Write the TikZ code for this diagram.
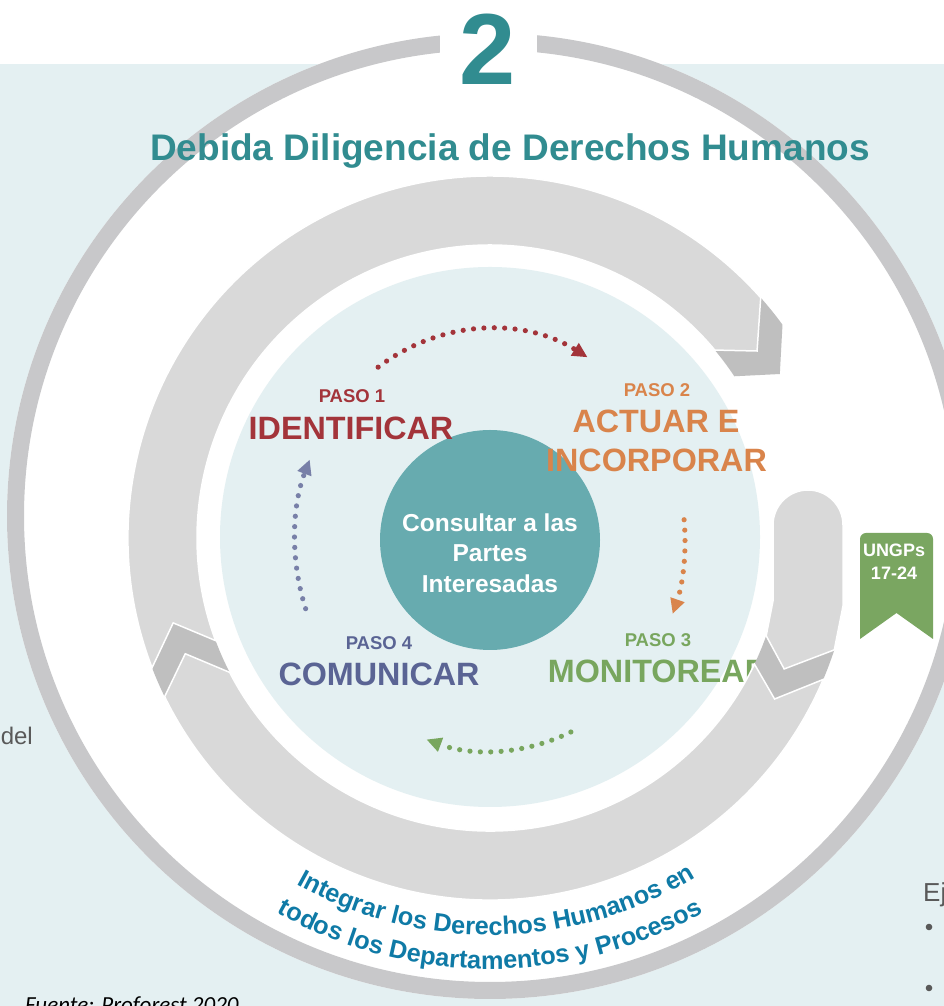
\documentclass[tikz,border=0pt]{standalone}
\usepackage{fontspec}
\setmainfont{Liberation Sans}
\newfontfamily\carlito{Carlito}
\usetikzlibrary{calc,arrows.meta,decorations.text}
\definecolor{bgblue}{HTML}{E4F0F2}
\definecolor{ringgrey}{HTML}{C8C8CA}
\definecolor{bandlight}{HTML}{D9D9D9}
\definecolor{banddark}{HTML}{BFBFBF}
\definecolor{tealc}{HTML}{67ABAF}
\definecolor{titleteal}{HTML}{318C90}
\definecolor{pred}{HTML}{A3343A}
\definecolor{porange}{HTML}{D9844B}
\definecolor{pgreen}{HTML}{78A65E}
\definecolor{pslate}{HTML}{5A6494}
\definecolor{dotslate}{HTML}{7880A8}
\definecolor{ribbongreen}{HTML}{7AA661}
\definecolor{arcblue}{HTML}{0F7AA6}
\definecolor{greytext}{HTML}{595959}
\begin{document}
\begin{tikzpicture}[x=1pt,y=1pt,
  lbl/.style={inner sep=0pt, anchor=base, font=\bfseries\fontsize{18.5}{22}\selectfont},
  big/.style={inner sep=0pt, anchor=base, font=\bfseries\fontsize{32.3}{39}\selectfont},
  hubtext/.style={inner sep=0pt, anchor=base, text=white, font=\bfseries\fontsize{24.5}{29}\selectfont},
  ribtext/.style={inner sep=0pt, anchor=base, text=white, font=\bfseries\fontsize{18}{21}\selectfont},
  dots/.style={line width=5.2pt, line cap=round, dash pattern=on 0pt off 10.4pt},
  tip/.style={-{Triangle[length=15pt,width=14pt]}},
  lightseg/.style={fill=bandlight, draw=white, line width=1.5pt},
  darkseg/.style={fill=banddark},
]
\useasboundingbox (0,0) rectangle (944,1006);
\clip (0,0) rectangle (944,1006);
\coordinate (C) at (490,468);
\coordinate (T) at (490,466);
\coordinate (O) at (490,490);
% backgrounds
\fill[white] (0,0) rectangle (944,1006);
\fill[bgblue] (0,0) rectangle (944,942);
\fill[white] (O) circle[radius=483];
\fill[ringgrey, even odd rule] (O) circle[radius=483] (O) circle[radius=466];
\fill[white] (440,945) rectangle (537,1006);
% cut-off slide texts
\node[anchor=base east, inner sep=0pt, text=greytext, font=\fontsize{24}{28}\selectfont] (del) at (33,261) {del};
\node[anchor=base west, inner sep=0pt, text=greytext, font=\fontsize{26}{30}\selectfont] (ej) at (923,104) {Ej};
\fill[greytext] (929,79) circle[radius=3.3];
\fill[greytext] (929,18) circle[radius=3.3];
\node[anchor=base west, inner sep=0pt, text=black, font=\carlito\itshape\fontsize{23}{27}\selectfont] (src) at (25,-6) {Fuente: Proforest 2020};
% inner disk and hub
\fill[bgblue] (490,469) circle[radius=270];
\node[circle, fill=tealc, minimum size=220pt, inner sep=0pt] (hub) at (T) {};
\node[hubtext] (h1) at (490,474) {Consultar a las};
\node[hubtext] (h2) at (490,444) {Partes};
\node[hubtext] (h3) at (490,413) {Interesadas};
% step labels
\node[lbl, text=pred] (p1) at (352,603) {PASO 1};
\node[big, text=pred] (s1) at (351,566) {IDENTIFICAR};
\node[lbl, text=porange] (p2) at (657,609) {PASO 2};
\node[big, text=porange] (s2a) at (656,573) {ACTUAR E};
\node[big, text=porange] (s2b) at (656.5,534) {INCORPORAR};
\node[lbl, text=pgreen] (p3) at (658,359) {PASO 3};
\node[big, text=pgreen] (s3) at (658,323) {MONITOREAR};
\node[lbl, text=pslate] (p4) at (379,356) {PASO 4};
\node[big, text=pslate] (s4) at (379,320) {COMUNICAR};
% dotted arrows
\draw[dots, tip, pred] ($(T)+(125:195 and 211)$) arc[start angle=125, end angle=60, x radius=195, y radius=211];
\draw[dots, tip, porange] ($(T)+(5.5:195 and 211)$) arc[start angle=5.5, end angle=-20.5, x radius=195, y radius=211];
\draw[dots, tip, pgreen] ($(T)+(-65.5:195 and 211)$) arc[start angle=-65.5, end angle=-109, x radius=195, y radius=211];
\draw[dots, tip, dotslate] ($(T)+(199:195 and 211)$) arc[start angle=199, end angle=157.6, x radius=195, y radius=211];
% grey band: dark chevron pieces
\fill[darkseg] ($(C)+(-154:362)$) -- ($(C)+(-159.2:326)$) -- ($(C)+(-152.7:293)$) arc[start angle=-152.7, end angle=-159.5, radius=293] -- ($(C)+(-165:328)$) -- ($(C)+(-159:362)$) arc[start angle=-159, end angle=-154, radius=362] -- cycle;
\fill[darkseg] ($(C)+(41.6:362)$) arc[start angle=41.6, end angle=36.1, radius=362] -- ($(C)+(29.5:333)$) -- ($(C)+(33.5:293)$) arc[start angle=33.5, end angle=39.9, radius=293] -- ($(C)+(35:326)$) -- cycle;
\fill[darkseg] ($(C)+(-19.5:293)$) -- ($(C)+(-24:322)$) -- ($(C)+(-18:362)$) arc[start angle=-18, end angle=-23, radius=362] -- ($(C)+(-29.5:327)$) -- ($(C)+(-25.5:293)$) arc[start angle=-25.5, end angle=-19.5, radius=293] -- cycle;
% grey band: light segments
\path[lightseg] ($(C)+(201:362)$) arc[start angle=201, end angle=41.6, radius=362] -- ($(C)+(35:326)$) -- ($(C)+(39.9:293)$) arc[start angle=39.9, end angle=200.5, radius=293] -- ($(C)+(195:328)$) -- cycle;
\path[lightseg] (843,481) arc[start angle=0, end angle=180, radius=35] -- (773,405) -- ($(C)+(-19.5:293)$) -- ($(C)+(-24:322)$) -- ($(C)+(-18:362)$) -- (843,400) -- cycle;
\path[lightseg] ($(C)+(-23:362)$) arc[start angle=-23, end angle=-154, radius=362] -- ($(C)+(-159.2:326)$) -- ($(C)+(-152.7:293)$) arc[start angle=-152.7, end angle=-25.5, radius=293] -- ($(C)+(-29.5:327)$) -- cycle;
% ribbon
\fill[ribbongreen] (860,367) -- (860,467) arc[start angle=180, end angle=90, radius=6] -- (927,473) arc[start angle=90, end angle=0, radius=6] -- (933,367) -- (896.5,393) -- cycle;
\node[ribtext] (u1) at (894,449) {UNGPs};
\node[ribtext] (u2) at (894,426) {17-24};
% curved text
\path[decorate, decoration={text along path, text align=center, text color=arcblue,
  text={|\bfseries\fontsize{25.3}{29}\selectfont|Integrar los Derechos Humanos en}}]
  ($(C)+(-130:397)$) arc[start angle=-130, end angle=-48, radius=397];
\path[decorate, decoration={text along path, text align=center, text color=arcblue,
  text={|\bfseries\fontsize{25.3}{29}\selectfont|todos los Departamentos y Procesos}}]
  ($(C)+(-131:431)$) arc[start angle=-131, end angle=-49, radius=431];
% title
\node[anchor=base, inner sep=0pt, text=titleteal, font=\bfseries\fontsize{37}{44}\selectfont] (title) at (510,845) {Debida Diligencia de Derechos Humanos};
\node[anchor=base, inner sep=0pt, text=titleteal, font=\bfseries\fontsize{101}{110}\selectfont] (num) at (488,921) {2};
\end{tikzpicture}
\end{document}
